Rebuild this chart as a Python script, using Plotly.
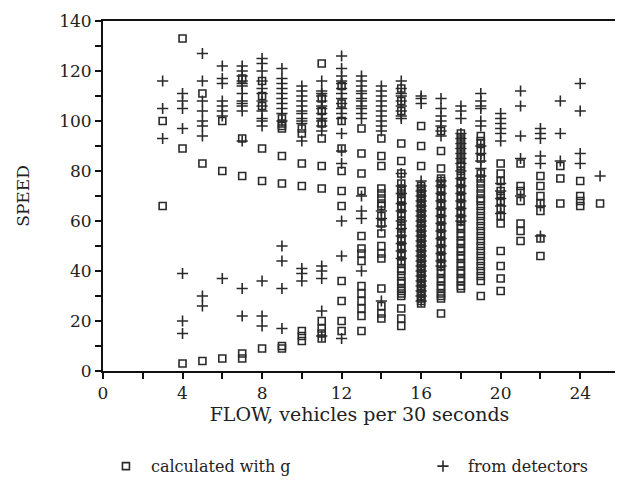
import plotly.graph_objects as go

# ---- data: flow (vehicles per 30 s) -> speed values, per column ----
sq_data = {
    3: [100, 66],
    4: [133, 89, 3],
    5: [111, 83, 4],
    6: [100, 80, 5],
    7: [117, 93, 78, 7, 5],
    8: [116, 110, 106, 89, 76, 9],
    9: [101, 99, 98, 97, 86, 75, 10, 9],
    10: [97, 95, 83, 74, 16, 14, 12],
    11: [123, 109, 104, 99, 93, 82, 73, 20, 17, 15, 13],
    12: [114, 107, 100, 89, 80, 72, 66, 36, 28, 20, 16],
    13: [97, 87, 79, 72, 54, 49, 47, 44, 34, 31, 28, 25, 22, 16],
    14: [93, 86, 82, 73, 71, 69, 67, 66, 62, 59, 55, 50, 47, 45, 33, 26, 23, 21],
    15: [113, 108, 104, 91, 84, 79, 75, 73, 72, 71, 69, 68, 66, 65, 63, 62, 60,
         58, 57, 55, 53, 52, 50, 49, 47, 46, 44, 43, 41, 40, 38, 36, 35, 33, 32,
         31, 30, 25, 21, 18],
    16: [98, 90, 82, 74, 73, 72, 71, 70, 69, 68, 67, 66, 65, 64, 63, 62, 61, 60,
         59, 58, 57, 56, 55, 54, 53, 52, 51, 50, 49, 48, 47, 46, 45, 44, 43, 42,
         41, 40, 39, 38, 37, 36, 35, 34, 33, 32, 31, 30, 29, 28, 27],
    17: [96, 88, 81, 77, 76, 75, 73, 72, 70, 69, 67, 66, 64, 63, 61, 60, 58, 57,
         55, 54, 52, 51, 49, 48, 46, 45, 43, 42, 40, 39, 37, 36, 34, 33, 31, 30,
         29, 23],
    18: [95, 93, 91, 89, 87, 85, 83, 82, 80, 78, 76, 75, 73, 72, 70, 69, 67, 66,
         64, 63, 61, 60, 58, 57, 55, 54, 52, 51, 49, 48, 46, 45, 43, 42, 40, 39,
         37, 36, 34, 33],
    19: [94, 92, 91, 88, 85, 79, 77, 75, 73, 71, 69, 68, 66, 64, 62, 60, 58, 56,
         54, 52, 50, 48, 46, 44, 42, 40, 38, 36, 30],
    20: [83, 79, 76, 72, 70, 68, 65, 62, 59, 48, 42, 37, 32],
    21: [83, 74, 72, 68, 59, 56, 52],
    22: [78, 74, 70, 67, 64, 53, 46],
    23: [82, 77, 67],
    24: [76, 70, 68, 66],
    25: [67],
}

plus_data = {
    3: [116, 105, 93],
    4: [111, 108, 105, 97, 39, 20, 15],
    5: [127, 116, 108, 104, 100, 98, 94, 30, 26],
    6: [122, 117, 115, 108, 106, 104, 102, 37],
    7: [122, 120, 118, 116, 115, 114, 111, 108, 107, 106, 104, 92, 33, 22],
    8: [125, 123, 120, 116, 113, 111, 108, 106, 104, 101, 100, 98, 36, 22, 18],
    9: [121, 117, 115, 113, 111, 109, 107, 105, 103, 100, 50, 44, 33, 17],
    10: [114, 112, 110, 108, 106, 104, 103, 101, 100, 99, 92, 41, 39, 36],
    11: [116, 112, 111, 110, 108, 106, 105, 103, 101, 100, 98, 96, 42, 40, 37,
         24, 14],
    12: [126, 121, 118, 116, 115, 113, 111, 109, 107, 105, 103, 101, 95, 88, 83,
         60, 46, 13],
    13: [118, 116, 114, 112, 111, 109, 108, 106, 105, 103, 101, 70, 64, 61, 40],
    14: [114, 112, 110, 108, 106, 104, 102, 100, 98, 96, 64, 61, 58, 28],
    15: [116, 113, 111, 110, 108, 106, 104, 102, 101, 79, 74, 71, 67, 64, 60,
         57, 54, 51, 48, 45],
    16: [110, 109, 107, 76, 74, 72, 70, 68, 66, 64, 62, 60, 58, 56, 54, 52, 50,
         48, 46, 44, 42, 40, 38, 36, 34, 32, 30, 28],
    17: [109, 105, 102, 100, 98, 96, 94, 76, 74, 71, 68, 65, 62, 59, 56, 53, 50,
         47, 44, 42],
    18: [106, 104, 101, 95, 93, 91, 89, 87, 85, 83, 80, 77, 74, 71, 68, 65, 62,
         60],
    19: [111, 108, 106, 105, 100, 98, 90, 87, 84, 81, 78],
    20: [103, 101, 99, 97, 95, 92, 75, 72, 69, 66, 63],
    21: [112, 106, 94, 85, 70],
    22: [97, 95, 93, 86, 83, 66, 54],
    23: [108, 95, 84],
    24: [115, 104, 87, 83],
    25: [78],
}

x_tick_vals = [0, 2, 4, 6, 8, 10, 12, 14, 16, 18, 20, 22, 24]
x_tick_text = ["0", "", "4", "", "8", "", "12", "", "16", "", "20", "", "24"]
y_tick_vals = [0, 10, 20, 30, 40, 50, 60, 70, 80, 90, 100, 110, 120, 130, 140]
y_tick_text = ["0", "", "20", "", "40", "", "60", "", "80", "", "100", "",
               "120", "", "140"]

sq_x = [k for k, v in sq_data.items() for _ in v]
sq_y = [s for v in sq_data.values() for s in v]
pl_x = [k for k, v in plus_data.items() for _ in v]
pl_y = [s for v in plus_data.values() for s in v]

ink = "#2a2a2a"
font_family = "DejaVu Serif"

fig = go.Figure()
fig.add_trace(go.Scatter(
    x=sq_x, y=sq_y, mode="markers", name="calculated with g", legend="legend",
    marker=dict(symbol="square-open", size=7, color=ink, line=dict(width=1.6)),
))
fig.add_trace(go.Scatter(
    x=pl_x, y=pl_y, mode="markers", name="from detectors", legend="legend2",
    marker=dict(symbol="cross-thin-open", size=8, color=ink, line=dict(width=1.6, color=ink)),
))

legend_common = dict(
    orientation="h", yanchor="middle", xanchor="left", y=-0.272, itemwidth=40,
    font=dict(size=16, family=font_family, color="#222"), bgcolor="rgba(0,0,0,0)",
)

# page body has an 8px margin, so the figure is sized to fit the 623x491 window
fig.update_layout(
    width=615, height=483,
    margin=dict(l=95, r=7, t=13, b=120, autoexpand=False),
    paper_bgcolor="white", plot_bgcolor="white",
    font=dict(family=font_family, size=17, color="#222"),
    showlegend=True,
    legend=dict(x=-0.004, **legend_common),
    legend2=dict(x=0.614, **legend_common),
    xaxis=dict(
        range=[0, 25.8], tickmode="array", tickvals=x_tick_vals, ticktext=x_tick_text,
        ticks="outside", ticklen=6, tickwidth=2, tickcolor="#111",
        showline=True, linewidth=2, linecolor="#111", mirror=True,
        showgrid=False, zeroline=False, automargin=False,
        tickfont=dict(size=17),
        title=dict(text="FLOW, vehicles per 30 seconds", font=dict(size=19), standoff=0),
    ),
    yaxis=dict(
        range=[0, 140], tickmode="array", tickvals=y_tick_vals, ticktext=y_tick_text,
        ticks="outside", ticklen=6, tickwidth=2, tickcolor="#111",
        showline=True, linewidth=2, linecolor="#111", mirror=True,
        showgrid=False, zeroline=False, automargin=False,
        tickfont=dict(size=17),
        title=dict(text="SPEED", font=dict(size=17), standoff=25),
    ),
)

fig.write_html("out.html")
